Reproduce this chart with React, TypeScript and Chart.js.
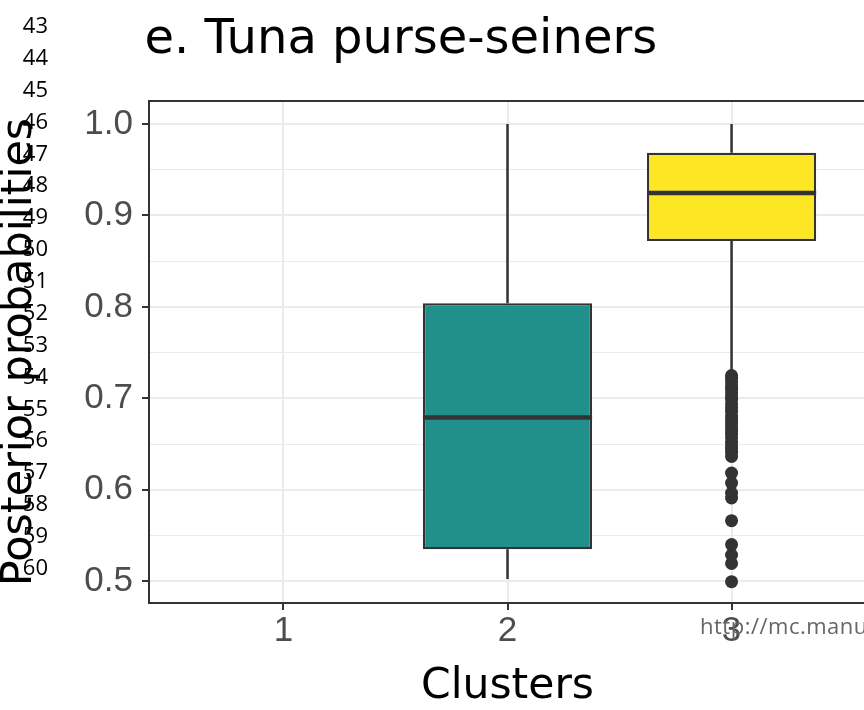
import { useEffect, useRef } from 'react';
import { Chart, registerables } from 'chart.js';

Chart.register(...registerables);

// ---- data ----
const categories = ['1', '2', '3'];
const clusterX = [2, 3];
const whiskerLow = [0.5024, 0.729];
const q1 = [0.535, 0.872];
const medians = [0.679, 0.9245];
const q3 = [0.804, 0.9686];
const whiskerHigh = [1.0, 1.0];
const boxColors = ['#21908C', '#FDE725'];
const outliersCluster3 = [
  0.725, 0.722, 0.718, 0.714, 0.71, 0.706, 0.702, 0.699, 0.694, 0.69, 0.686,
  0.681, 0.677, 0.673, 0.669, 0.665, 0.661, 0.657, 0.652, 0.648, 0.645, 0.641,
  0.6364, 0.6183, 0.6074, 0.5965, 0.591, 0.5662, 0.5401, 0.5287, 0.5194, 0.4995,
];
const lineNumbers = ['43', '44', '45', '46', '47', '48', '49', '50', '51', '52', '53', '54', '55', '56', '57', '58', '59', '60'];

const TITLE = 'e. Tuna purse-seiners';
const X_TITLE = 'Clusters';
const Y_TITLE = 'Posterior probabilities';
const WATERMARK = 'http://mc.manuscriptcentral.com';

const BOX_WIDTH = 0.755;
const isMajor = (v: number) => Math.abs(v * 10 - Math.round(v * 10)) < 1e-6;

const panelBorder = {
  id: 'panelBorder',
  afterDatasetsDraw(chart: any) {
    const { ctx, chartArea } = chart;
    ctx.save();
    ctx.strokeStyle = '#333333';
    ctx.lineWidth = 2;
    ctx.strokeRect(chartArea.left, chartArea.top, chartArea.right - chartArea.left, chartArea.bottom - chartArea.top);
    ctx.restore();
  },
};

const plotTitle = {
  id: 'plotTitle',
  afterDraw(chart: any) {
    const { ctx, chartArea } = chart;
    ctx.save();
    ctx.font = 'normal 48px "DejaVu Sans"';
    ctx.fillStyle = '#000000';
    ctx.textAlign = 'left';
    ctx.textBaseline = 'alphabetic';
    ctx.fillText(TITLE, chartArea.left - 4.5, 53);
    ctx.restore();
  },
};

export default function App() {
  const canvasRef = useRef<HTMLCanvasElement | null>(null);

  useEffect(() => {
    if (!canvasRef.current) return;

    const boxData = clusterX.map((x, i) => ({ x, y: [q1[i], q3[i]] }));
    const whiskerData: any[] = [];
    clusterX.forEach((x, i) => {
      whiskerData.push({ x, y: whiskerLow[i] }, { x, y: q1[i] }, { x, y: null });
      whiskerData.push({ x, y: q3[i] }, { x, y: whiskerHigh[i] }, { x, y: null });
    });
    const medianData: any[] = [];
    clusterX.forEach((x, i) => {
      medianData.push({ x: x - BOX_WIDTH / 2, y: medians[i] }, { x: x + BOX_WIDTH / 2, y: medians[i] }, { x, y: null });
    });
    const outlierData = outliersCluster3.map((v) => ({ x: 3, y: v }));

    const tickFont = { family: 'Liberation Sans', size: 35, lineHeight: 1 };

    const chart = new Chart(canvasRef.current, {
      type: 'bar',
      data: {
        datasets: [
          {
            type: 'line',
            data: whiskerData,
            borderColor: '#333333',
            borderWidth: 2.5,
            pointRadius: 0,
            spanGaps: false,
            order: 4,
          } as any,
          {
            type: 'bar',
            data: boxData,
            backgroundColor: boxColors,
            borderColor: '#333333',
            borderWidth: 2.3,
            borderSkipped: false,
            barPercentage: BOX_WIDTH,
            categoryPercentage: 1,
            order: 3,
          } as any,
          {
            type: 'line',
            data: medianData,
            borderColor: '#333333',
            borderWidth: 4.5,
            borderCapStyle: 'butt',
            pointRadius: 0,
            spanGaps: false,
            order: 2,
          } as any,
          {
            type: 'scatter',
            data: outlierData,
            backgroundColor: '#333333',
            borderWidth: 0,
            pointRadius: 6.5,
            pointHoverRadius: 6.5,
            order: 1,
          } as any,
        ],
      },
      options: {
        responsive: false,
        animation: false,
        events: [],
        layout: { padding: { left: 0, top: 101, right: 14, bottom: 0 } },
        plugins: {
          legend: { display: false },
          tooltip: { enabled: false },
          title: { display: false },
        },
        scales: {
          x: {
            type: 'linear',
            min: 0.4,
            max: 3.6,
            offset: false,
            border: { display: false },
            grid: {
              offset: false,
              color: '#ebebeb',
              lineWidth: 2,
              drawTicks: true,
              tickLength: 7,
              tickColor: '#333333',
              tickWidth: 2,
            },
            ticks: {
              stepSize: 1,
              includeBounds: false,
              autoSkip: false,
              maxRotation: 0,
              padding: 4,
              color: '#4d4d4d',
              font: tickFont,
              callback: (v: any) => categories[Math.round(Number(v)) - 1] ?? '',
            },
            title: {
              display: true,
              text: X_TITLE,
              color: '#000000',
              font: { family: 'DejaVu Sans', size: 42.5, lineHeight: 1 },
              padding: { top: 0, bottom: 1.3 },
            },
            afterFit: (scale: any) => {
              scale.height = 107;
            },
          },
          y: {
            type: 'linear',
            min: 0.4762,
            max: 1.0252,
            border: { display: false },
            grid: {
              color: '#ebebeb',
              lineWidth: (ctx: any) => (ctx.tick && isMajor(ctx.tick.value) ? 2 : 1),
              drawTicks: true,
              tickLength: 7,
              tickColor: (ctx: any) => (ctx.tick && isMajor(ctx.tick.value) ? '#333333' : 'rgba(0,0,0,0)'),
              tickWidth: 2,
            },
            ticks: {
              stepSize: 0.05,
              includeBounds: false,
              autoSkip: false,
              padding: 9,
              color: '#4d4d4d',
              font: tickFont,
              callback: (v: any) => (isMajor(Number(v)) ? Number(v).toFixed(1) : ''),
            },
            title: {
              display: true,
              text: Y_TITLE,
              color: '#000000',
              font: { family: 'DejaVu Sans', size: 43, lineHeight: 0.9 },
              padding: { top: 0, bottom: 0 },
            },
            afterFit: (scale: any) => {
              scale.width = 149;
            },
          },
        },
      } as any,
      plugins: [panelBorder, plotTitle],
    });

    return () => chart.destroy();
  }, []);

  return (
    <div
      style={{
        position: 'fixed',
        left: 0,
        top: 0,
        width: 864,
        height: 710,
        overflow: 'hidden',
        background: '#ffffff',
      }}
    >
      <canvas ref={canvasRef} width={880} height={710} style={{ position: 'absolute', left: 0, top: 0, width: 880, height: 710 }} />
      {lineNumbers.map((n, i) => (
        <div
          key={n}
          style={{
            position: 'absolute',
            left: 0,
            width: 48,
            top: 24.7 + i * 31.88 - 11.7,
            textAlign: 'right',
            fontFamily: '"Open Sans", sans-serif',
            fontSize: 22,
            lineHeight: '22px',
            color: '#000000',
          }}
        >
          {n}
        </div>
      ))}
      <div
        style={{
          position: 'absolute',
          left: 700,
          top: 614,
          whiteSpace: 'nowrap',
          fontFamily: '"Open Sans", sans-serif',
          fontSize: 22,
          lineHeight: '22px',
          letterSpacing: '0.5px',
          color: '#666666',
        }}
      >
        {WATERMARK}
      </div>
    </div>
  );
}
